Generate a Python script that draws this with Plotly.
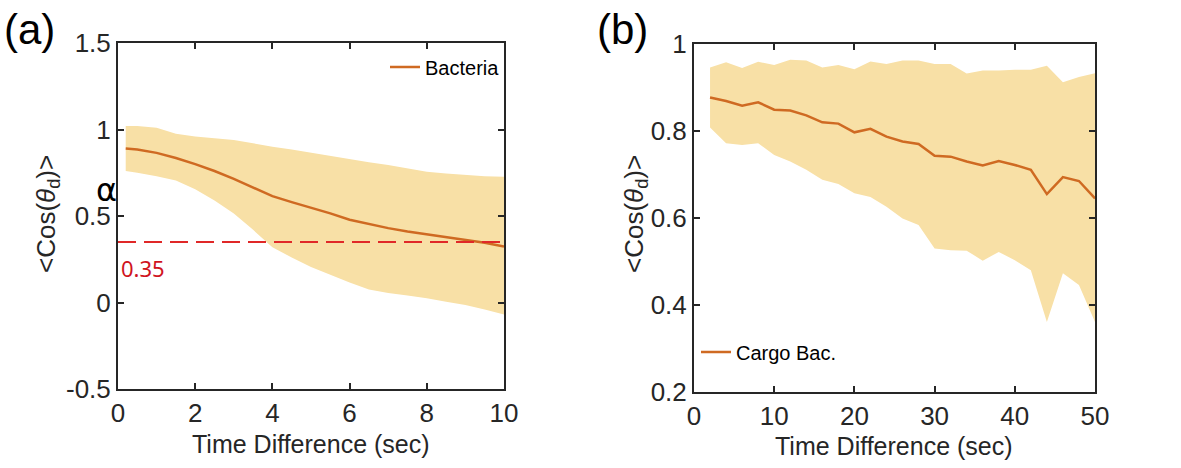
import plotly.graph_objects as go

# Panel (a): bacteria, mean direction correlation with spread band
t_a = [0.2, 0.5, 1.0, 1.5, 2.0, 2.5, 3.0, 3.5, 4.0, 4.5, 5.0,
       5.5, 6.0, 6.5, 7.0, 7.5, 8.0, 8.5, 9.0, 9.5, 10.0]
mean_a = [0.89, 0.885, 0.865, 0.835, 0.80, 0.76, 0.715, 0.665, 0.615, 0.58, 0.548,
          0.515, 0.478, 0.452, 0.43, 0.41, 0.394, 0.38, 0.364, 0.345, 0.323]
upper_a = [1.02, 1.02, 1.01, 0.975, 0.96, 0.95, 0.94, 0.92, 0.90, 0.885, 0.866,
           0.85, 0.83, 0.81, 0.795, 0.775, 0.756, 0.745, 0.737, 0.73, 0.727]
lower_a = [0.76, 0.75, 0.73, 0.705, 0.655, 0.59, 0.515, 0.42, 0.32, 0.26, 0.205,
           0.16, 0.115, 0.075, 0.055, 0.04, 0.025, 0.005, -0.015, -0.04, -0.07]
threshold_a = 0.35

# Panel (b): cargo-carrying bacteria
t_b = [2, 4, 6, 8, 10, 12, 14, 16, 18, 20, 22, 24, 26,
       28, 30, 32, 34, 36, 38, 40, 42, 44, 46, 48, 50]
mean_b = [0.877, 0.869, 0.858, 0.866, 0.849, 0.847, 0.836, 0.820, 0.817, 0.797, 0.805, 0.787, 0.776,
          0.770, 0.743, 0.741, 0.730, 0.721, 0.731, 0.722, 0.711, 0.655, 0.694, 0.685, 0.645]
upper_b = [0.946, 0.958, 0.945, 0.959, 0.952, 0.964, 0.962, 0.946, 0.952, 0.942, 0.960, 0.954, 0.962,
           0.962, 0.954, 0.954, 0.932, 0.939, 0.939, 0.941, 0.941, 0.950, 0.912, 0.924, 0.933]
lower_b = [0.808, 0.772, 0.768, 0.772, 0.745, 0.730, 0.711, 0.688, 0.678, 0.657, 0.648, 0.626, 0.599,
           0.584, 0.530, 0.526, 0.525, 0.502, 0.522, 0.503, 0.480, 0.361, 0.473, 0.446, 0.361]

ticks_ax = [0, 2, 4, 6, 8, 10]
ticks_ay = [-0.5, 0, 0.5, 1, 1.5]
labels_ay = ["-0.5", "0", "0.5", "1", "1.5"]
ticks_bx = [0, 10, 20, 30, 40, 50]
ticks_by = [0.2, 0.4, 0.6, 0.8, 1.0]
labels_by = ["0.2", "0.4", "0.6", "0.8", "1"]

FONT = "Liberation Sans, Arial, sans-serif"
AXIS = "#262626"
LINE = "#CF6A22"
BAND = "#F8E0A6"
RED = "#E02828"

fig = go.Figure()

# shaded spread bands
fig.add_trace(go.Scatter(x=t_a + t_a[::-1], y=upper_a + lower_a[::-1], fill="toself",
                         fillcolor=BAND, line=dict(width=0), mode="lines",
                         hoverinfo="skip", showlegend=False, xaxis="x", yaxis="y"))
fig.add_trace(go.Scatter(x=t_b + t_b[::-1], y=upper_b + lower_b[::-1], fill="toself",
                         fillcolor=BAND, line=dict(width=0), mode="lines",
                         hoverinfo="skip", showlegend=False, xaxis="x2", yaxis="y2"))

# mean curves
fig.add_trace(go.Scatter(x=t_a, y=mean_a, mode="lines", name="Bacteria",
                         line=dict(color=LINE, width=2.5), xaxis="x", yaxis="y",
                         legend="legend"))
fig.add_trace(go.Scatter(x=t_b, y=mean_b, mode="lines", name="Cargo Bac.",
                         line=dict(color=LINE, width=2.5), xaxis="x2", yaxis="y2",
                         legend="legend2"))

W, H = 1181, 468
def px(x):
    return x / W
def py(y):
    return 1 - y / H

axis_common = dict(showline=True, linecolor=AXIS, linewidth=2, mirror="ticks",
                   ticks="inside", ticklen=6, tickwidth=2, tickcolor=AXIS,
                   showgrid=False, zeroline=False, automargin=False,
                   tickfont=dict(family=FONT, size=26, color=AXIS))

fig.update_layout(
    width=W, height=H, margin=dict(l=0, r=0, t=0, b=0, autoexpand=False),
    paper_bgcolor="white", plot_bgcolor="white",
    font=dict(family=FONT, color=AXIS),
    xaxis=dict(domain=[px(118), px(504)], range=[0, 10], tickvals=ticks_ax,
               anchor="y", **axis_common),
    yaxis=dict(domain=[py(389), py(43)], range=[-0.5, 1.5], tickvals=ticks_ay,
               ticktext=labels_ay, anchor="x", **axis_common),
    xaxis2=dict(domain=[px(694), px(1095)], range=[0, 50], tickvals=ticks_bx,
                anchor="y2", **axis_common),
    yaxis2=dict(domain=[py(392), py(44)], range=[0.2, 1.0], tickvals=ticks_by,
                ticktext=labels_by, anchor="x2", **axis_common),
    legend=dict(x=px(385), y=py(67), xanchor="left", yanchor="middle",
                bgcolor="rgba(0,0,0,0)", itemwidth=30,
                font=dict(family=FONT, size=20, color="#000000")),
    legend2=dict(x=px(696), y=py(352), xanchor="left", yanchor="middle",
                 bgcolor="rgba(0,0,0,0)", itemwidth=30,
                 font=dict(family=FONT, size=20, color="#000000")),
)

# threshold line in panel (a)
fig.add_shape(type="line", xref="x", yref="y", x0=0, x1=10, y0=threshold_a, y1=threshold_a,
              line=dict(color=RED, width=2, dash="18px,8px"))

ylab = "&lt;Cos(<i>θ</i><sub>d</sub>)&gt;"
xlab = "Time Difference (sec)"
annotations = [
    dict(text="(a)", x=px(2), y=py(29), xanchor="left", yanchor="middle",
         font=dict(family=FONT, size=42, color="#000000")),
    dict(text="(b)", x=px(595), y=py(29), xanchor="left", yanchor="middle",
         font=dict(family=FONT, size=42, color="#000000")),
    dict(text=ylab, x=px(48), y=py(214), textangle=-90, xanchor="center", yanchor="middle",
         font=dict(family=FONT, size=26, color=AXIS)),
    dict(text=ylab, x=px(636), y=py(214), textangle=-90, xanchor="center", yanchor="middle",
         font=dict(family=FONT, size=26, color=AXIS)),
    dict(text=xlab, x=px(311), y=py(444), xanchor="center", yanchor="middle",
         font=dict(family=FONT, size=25, color=AXIS)),
    dict(text=xlab, x=px(894), y=py(446), xanchor="center", yanchor="middle",
         font=dict(family=FONT, size=25, color=AXIS)),
    dict(text="α", x=px(106), y=py(190), xanchor="center", yanchor="middle",
         font=dict(family="DejaVu Sans, sans-serif", size=32, color="#000000")),
    dict(text=f"{threshold_a:.2f}", x=px(119), y=py(268), xanchor="left", yanchor="middle",
         font=dict(family="Noto Sans, sans-serif", size=22, color="#D0141E")),
]
fig.update_layout(annotations=[dict(xref="paper", yref="paper", showarrow=False, **a)
                               for a in annotations])

fig.write_html("out.html")
